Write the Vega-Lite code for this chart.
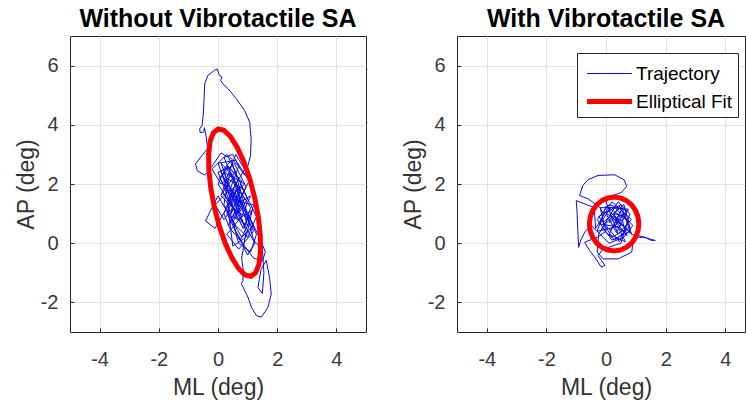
{
  "$schema": "https://vega.github.io/schema/vega-lite/v6.json",
  "background": "white",
  "padding": {"left": 14, "top": 6, "right": 0, "bottom": 0},
  "spacing": 34,
  "datasets": {
    "d": [
      {"p":"L","s":"Trajectory","i":0,"x":0.6,"y":1.2},
      {"p":"L","s":"Trajectory","i":1,"x":0.9,"y":1.8},
      {"p":"L","s":"Trajectory","i":2,"x":0.3,"y":2.2},
      {"p":"L","s":"Trajectory","i":3,"x":0.1,"y":1.6},
      {"p":"L","s":"Trajectory","i":4,"x":0.7,"y":1.0},
      {"p":"L","s":"Trajectory","i":5,"x":1.0,"y":1.5},
      {"p":"L","s":"Trajectory","i":6,"x":0.5,"y":2.6},
      {"p":"L","s":"Trajectory","i":7,"x":0.0,"y":2.4},
      {"p":"L","s":"Trajectory","i":8,"x":0.4,"y":1.4},
      {"p":"L","s":"Trajectory","i":9,"x":0.9,"y":0.6},
      {"p":"L","s":"Trajectory","i":10,"x":1.1,"y":1.2},
      {"p":"L","s":"Trajectory","i":11,"x":0.6,"y":2.0},
      {"p":"L","s":"Trajectory","i":12,"x":0.2,"y":2.9},
      {"p":"L","s":"Trajectory","i":13,"x":0.5,"y":3.0},
      {"p":"L","s":"Trajectory","i":14,"x":0.75,"y":2.5},
      {"p":"L","s":"Trajectory","i":15,"x":0.9,"y":2.3},
      {"p":"L","s":"Trajectory","i":16,"x":1.01,"y":2.62},
      {"p":"L","s":"Trajectory","i":17,"x":1.10,"y":2.96},
      {"p":"L","s":"Trajectory","i":18,"x":1.12,"y":3.53},
      {"p":"L","s":"Trajectory","i":19,"x":1.07,"y":4.09},
      {"p":"L","s":"Trajectory","i":20,"x":0.90,"y":4.48},
      {"p":"L","s":"Trajectory","i":21,"x":0.62,"y":4.88},
      {"p":"L","s":"Trajectory","i":22,"x":0.34,"y":5.22},
      {"p":"L","s":"Trajectory","i":23,"x":0.17,"y":5.38},
      {"p":"L","s":"Trajectory","i":24,"x":0.09,"y":5.50},
      {"p":"L","s":"Trajectory","i":25,"x":0.13,"y":5.62},
      {"p":"L","s":"Trajectory","i":26,"x":0.05,"y":5.67},
      {"p":"L","s":"Trajectory","i":27,"x":-0.03,"y":5.89},
      {"p":"L","s":"Trajectory","i":28,"x":-0.12,"y":5.84},
      {"p":"L","s":"Trajectory","i":29,"x":-0.34,"y":5.67},
      {"p":"L","s":"Trajectory","i":30,"x":-0.45,"y":5.38},
      {"p":"L","s":"Trajectory","i":31,"x":-0.47,"y":4.88},
      {"p":"L","s":"Trajectory","i":32,"x":-0.50,"y":4.31},
      {"p":"L","s":"Trajectory","i":33,"x":-0.54,"y":3.98},
      {"p":"L","s":"Trajectory","i":34,"x":-0.62,"y":3.86},
      {"p":"L","s":"Trajectory","i":35,"x":-0.60,"y":3.73},
      {"p":"L","s":"Trajectory","i":36,"x":-0.48,"y":3.76},
      {"p":"L","s":"Trajectory","i":37,"x":-0.46,"y":3.90},
      {"p":"L","s":"Trajectory","i":38,"x":-0.40,"y":3.6},
      {"p":"L","s":"Trajectory","i":39,"x":-0.35,"y":3.2},
      {"p":"L","s":"Trajectory","i":40,"x":-0.55,"y":2.95},
      {"p":"L","s":"Trajectory","i":41,"x":-0.76,"y":2.68},
      {"p":"L","s":"Trajectory","i":42,"x":-0.70,"y":2.45},
      {"p":"L","s":"Trajectory","i":43,"x":-0.45,"y":2.30},
      {"p":"L","s":"Trajectory","i":44,"x":-0.20,"y":2.6},
      {"p":"L","s":"Trajectory","i":45,"x":0.10,"y":3.05},
      {"p":"L","s":"Trajectory","i":46,"x":0.35,"y":2.9},
      {"p":"L","s":"Trajectory","i":47,"x":0.6,"y":2.4},
      {"p":"L","s":"Trajectory","i":48,"x":0.1,"y":2.0},
      {"p":"L","s":"Trajectory","i":49,"x":-0.2,"y":2.5},
      {"p":"L","s":"Trajectory","i":50,"x":0.3,"y":3.0},
      {"p":"L","s":"Trajectory","i":51,"x":0.7,"y":2.6},
      {"p":"L","s":"Trajectory","i":52,"x":0.4,"y":1.8},
      {"p":"L","s":"Trajectory","i":53,"x":-0.1,"y":1.3},
      {"p":"L","s":"Trajectory","i":54,"x":0.2,"y":0.8},
      {"p":"L","s":"Trajectory","i":55,"x":0.8,"y":1.6},
      {"p":"L","s":"Trajectory","i":56,"x":1.05,"y":2.1},
      {"p":"L","s":"Trajectory","i":57,"x":0.6,"y":2.8},
      {"p":"L","s":"Trajectory","i":58,"x":0.0,"y":2.7},
      {"p":"L","s":"Trajectory","i":59,"x":0.3,"y":1.9},
      {"p":"L","s":"Trajectory","i":60,"x":0.9,"y":1.2},
      {"p":"L","s":"Trajectory","i":61,"x":1.2,"y":0.6},
      {"p":"L","s":"Trajectory","i":62,"x":0.8,"y":0.2},
      {"p":"L","s":"Trajectory","i":63,"x":0.4,"y":0.9},
      {"p":"L","s":"Trajectory","i":64,"x":0.0,"y":1.6},
      {"p":"L","s":"Trajectory","i":65,"x":-0.3,"y":1.0},
      {"p":"L","s":"Trajectory","i":66,"x":-0.42,"y":0.75},
      {"p":"L","s":"Trajectory","i":67,"x":-0.1,"y":0.5},
      {"p":"L","s":"Trajectory","i":68,"x":0.3,"y":1.2},
      {"p":"L","s":"Trajectory","i":69,"x":0.7,"y":1.9},
      {"p":"L","s":"Trajectory","i":70,"x":1.0,"y":1.0},
      {"p":"L","s":"Trajectory","i":71,"x":1.3,"y":0.3},
      {"p":"L","s":"Trajectory","i":72,"x":1.1,"y":-0.3},
      {"p":"L","s":"Trajectory","i":73,"x":0.7,"y":0.0},
      {"p":"L","s":"Trajectory","i":74,"x":0.5,"y":0.7},
      {"p":"L","s":"Trajectory","i":75,"x":0.9,"y":1.5},
      {"p":"L","s":"Trajectory","i":76,"x":0.5,"y":2.2},
      {"p":"L","s":"Trajectory","i":77,"x":0.15,"y":1.7},
      {"p":"L","s":"Trajectory","i":78,"x":0.6,"y":1.1},
      {"p":"L","s":"Trajectory","i":79,"x":1.1,"y":0.8},
      {"p":"L","s":"Trajectory","i":80,"x":1.4,"y":0.2},
      {"p":"L","s":"Trajectory","i":81,"x":1.6,"y":-0.3},
      {"p":"L","s":"Trajectory","i":82,"x":1.5,"y":-0.6},
      {"p":"L","s":"Trajectory","i":83,"x":1.2,"y":-0.5},
      {"p":"L","s":"Trajectory","i":84,"x":0.9,"y":-0.1},
      {"p":"L","s":"Trajectory","i":85,"x":0.6,"y":0.4},
      {"p":"L","s":"Trajectory","i":86,"x":0.3,"y":1.4},
      {"p":"L","s":"Trajectory","i":87,"x":0.7,"y":2.2},
      {"p":"L","s":"Trajectory","i":88,"x":0.35,"y":2.6},
      {"p":"L","s":"Trajectory","i":89,"x":0.05,"y":2.2},
      {"p":"L","s":"Trajectory","i":90,"x":0.5,"y":1.5},
      {"p":"L","s":"Trajectory","i":91,"x":0.95,"y":0.4},
      {"p":"L","s":"Trajectory","i":92,"x":0.8,"y":-0.5},
      {"p":"L","s":"Trajectory","i":93,"x":0.85,"y":-0.9},
      {"p":"L","s":"Trajectory","i":94,"x":0.84,"y":-1.26},
      {"p":"L","s":"Trajectory","i":95,"x":0.79,"y":-1.37},
      {"p":"L","s":"Trajectory","i":96,"x":1.01,"y":-1.82},
      {"p":"L","s":"Trajectory","i":97,"x":1.13,"y":-2.16},
      {"p":"L","s":"Trajectory","i":98,"x":1.30,"y":-2.45},
      {"p":"L","s":"Trajectory","i":99,"x":1.46,"y":-2.50},
      {"p":"L","s":"Trajectory","i":100,"x":1.60,"y":-2.30},
      {"p":"L","s":"Trajectory","i":101,"x":1.69,"y":-2.16},
      {"p":"L","s":"Trajectory","i":102,"x":1.80,"y":-1.71},
      {"p":"L","s":"Trajectory","i":103,"x":1.74,"y":-1.15},
      {"p":"L","s":"Trajectory","i":104,"x":1.63,"y":-0.58},
      {"p":"L","s":"Trajectory","i":105,"x":1.45,"y":-0.9},
      {"p":"L","s":"Trajectory","i":106,"x":1.35,"y":-1.5},
      {"p":"L","s":"Trajectory","i":107,"x":1.5,"y":-1.7},
      {"p":"L","s":"Trajectory","i":108,"x":1.55,"y":-1.0},
      {"p":"L","s":"Trajectory","i":109,"x":1.5,"y":-0.2},
      {"p":"L","s":"Trajectory","i":110,"x":1.2,"y":0.1},
      {"p":"L","s":"Trajectory","i":111,"x":1.0,"y":0.9},
      {"p":"L","s":"Trajectory","i":112,"x":0.7,"y":1.6},
      {"p":"L","s":"Trajectory","i":113,"x":0.4,"y":2.4},
      {"p":"L","s":"Trajectory","i":114,"x":0.2,"y":1.3},
      {"p":"L","s":"Trajectory","i":115,"x":0.6,"y":0.6},
      {"p":"L","s":"Trajectory","i":116,"x":1.0,"y":0.2},
      {"p":"L","s":"Trajectory","i":117,"x":1.3,"y":0.9},
      {"p":"L","s":"Trajectory","i":118,"x":0.8,"y":1.9},
      {"p":"L","s":"Trajectory","i":119,"x":0.45,"y":1.0},
      {"p":"L","s":"Trajectory","i":120,"x":0.55,"y":1.7},
      {"p":"L","s":"Trajectory","i":121,"x":0.9,"y":2.0},
      {"p":"L","s":"Trajectory","i":122,"x":0.2,"y":2.4},
      {"p":"L","s":"Trajectory","i":123,"x":0.6,"y":1.3},
      {"p":"L","s":"Trajectory","i":124,"x":1.1,"y":1.6},
      {"p":"L","s":"Trajectory","i":125,"x":0.8,"y":0.9},
      {"p":"L","s":"Trajectory","i":126,"x":0.3,"y":0.3},
      {"p":"L","s":"Trajectory","i":127,"x":0.7,"y":-0.2},
      {"p":"L","s":"Trajectory","i":128,"x":1.2,"y":0.4},
      {"p":"L","s":"Trajectory","i":129,"x":0.9,"y":1.1},
      {"p":"L","s":"Trajectory","i":130,"x":0.4,"y":1.9},
      {"p":"L","s":"Trajectory","i":131,"x":0.1,"y":2.7},
      {"p":"L","s":"Trajectory","i":132,"x":0.5,"y":2.3},
      {"p":"L","s":"Trajectory","i":133,"x":0.8,"y":1.4},
      {"p":"L","s":"Trajectory","i":134,"x":0.5,"y":0.9},
      {"p":"L","s":"Trajectory","i":135,"x":1.0,"y":0.6},
      {"p":"L","s":"Trajectory","i":136,"x":0.65,"y":1.75},
      {"p":"L","s":"Trajectory","i":137,"x":0.2,"y":2.0},
      {"p":"L","s":"Trajectory","i":138,"x":0.75,"y":1.2},
      {"p":"L","s":"Trajectory","i":139,"x":0.35,"y":0.6},
      {"p":"L","s":"Trajectory","i":140,"x":0.95,"y":1.9},
      {"p":"L","s":"Trajectory","i":141,"x":0.55,"y":2.7},
      {"p":"L","s":"Trajectory","i":142,"x":0.15,"y":2.3},
      {"p":"L","s":"Trajectory","i":143,"x":0.65,"y":0.8},
      {"p":"L","s":"Trajectory","i":144,"x":1.15,"y":1.1},
      {"p":"L","s":"Trajectory","i":145,"x":0.85,"y":0.5},
      {"p":"L","s":"Trajectory","i":146,"x":0.45,"y":1.3},
      {"p":"L","s":"Trajectory","i":147,"x":0.0,"y":2.0},
      {"p":"L","s":"Trajectory","i":148,"x":0.3,"y":2.6},
      {"p":"L","s":"Trajectory","i":149,"x":0.8,"y":2.1},
      {"p":"L","s":"Trajectory","i":150,"x":0.6,"y":1.5},
      {"p":"L","s":"Trajectory","i":151,"x":1.05,"y":0.7},
      {"p":"L","s":"Trajectory","i":152,"x":0.75,"y":0.1},
      {"p":"L","s":"Trajectory","i":153,"x":0.4,"y":0.5},
      {"p":"L","s":"Trajectory","i":154,"x":0.2,"y":1.0},
      {"p":"L","s":"Trajectory","i":155,"x":0.55,"y":1.9},
      {"p":"L","s":"Trajectory","i":156,"x":0.9,"y":2.5},
      {"p":"L","s":"Trajectory","i":157,"x":0.6,"y":3.0},
      {"p":"L","s":"Trajectory","i":158,"x":0.25,"y":2.1},
      {"p":"L","s":"Trajectory","i":159,"x":0.7,"y":1.4},
      {"p":"L","s":"Trajectory","i":160,"x":1.2,"y":1.3},
      {"p":"L","s":"Trajectory","i":161,"x":0.95,"y":0.2},
      {"p":"L","s":"Trajectory","i":162,"x":0.5,"y":-0.1},
      {"p":"L","s":"Trajectory","i":163,"x":0.35,"y":1.1},
      {"p":"L","s":"Trajectory","i":164,"x":0.7,"y":2.0},
      {"p":"L","s":"Trajectory","i":165,"x":0.45,"y":2.8},
      {"p":"L","s":"Trajectory","i":166,"x":0.1,"y":2.4},
      {"p":"L","s":"Trajectory","i":167,"x":0.55,"y":1.6},
      {"p":"L","s":"Trajectory","i":168,"x":0.85,"y":0.7},
      {"p":"L","s":"Trajectory","i":169,"x":1.25,"y":0.0},
      {"p":"L","s":"Trajectory","i":170,"x":1.0,"y":-0.4},
      {"p":"L","s":"Trajectory","i":171,"x":0.65,"y":0.3},
      {"p":"L","s":"Trajectory","i":172,"x":0.3,"y":1.0},
      {"p":"L","s":"Trajectory","i":173,"x":0.5,"y":1.8},
      {"p":"L","s":"Trajectory","i":174,"x":0.85,"y":1.3},
      {"p":"L","s":"Elliptical Fit","i":0,"x":0.004,"y":3.859},
      {"p":"L","s":"Elliptical Fit","i":1,"x":-0.154,"y":3.734},
      {"p":"L","s":"Elliptical Fit","i":2,"x":-0.264,"y":3.449},
      {"p":"L","s":"Elliptical Fit","i":3,"x":-0.316,"y":3.022},
      {"p":"L","s":"Elliptical Fit","i":4,"x":-0.309,"y":2.483},
      {"p":"L","s":"Elliptical Fit","i":5,"x":-0.244,"y":1.867},
      {"p":"L","s":"Elliptical Fit","i":6,"x":-0.123,"y":1.217},
      {"p":"L","s":"Elliptical Fit","i":7,"x":0.044,"y":0.577},
      {"p":"L","s":"Elliptical Fit","i":8,"x":0.247,"y":-0.007},
      {"p":"L","s":"Elliptical Fit","i":9,"x":0.470,"y":-0.498},
      {"p":"L","s":"Elliptical Fit","i":10,"x":0.700,"y":-0.863},
      {"p":"L","s":"Elliptical Fit","i":11,"x":0.920,"y":-1.074},
      {"p":"L","s":"Elliptical Fit","i":12,"x":1.116,"y":-1.119},
      {"p":"L","s":"Elliptical Fit","i":13,"x":1.274,"y":-0.994},
      {"p":"L","s":"Elliptical Fit","i":14,"x":1.384,"y":-0.709},
      {"p":"L","s":"Elliptical Fit","i":15,"x":1.436,"y":-0.282},
      {"p":"L","s":"Elliptical Fit","i":16,"x":1.429,"y":0.257},
      {"p":"L","s":"Elliptical Fit","i":17,"x":1.364,"y":0.873},
      {"p":"L","s":"Elliptical Fit","i":18,"x":1.243,"y":1.523},
      {"p":"L","s":"Elliptical Fit","i":19,"x":1.076,"y":2.163},
      {"p":"L","s":"Elliptical Fit","i":20,"x":0.873,"y":2.747},
      {"p":"L","s":"Elliptical Fit","i":21,"x":0.650,"y":3.238},
      {"p":"L","s":"Elliptical Fit","i":22,"x":0.420,"y":3.603},
      {"p":"L","s":"Elliptical Fit","i":23,"x":0.200,"y":3.814},
      {"p":"L","s":"Elliptical Fit","i":24,"x":0.004,"y":3.859},
      {"p":"R","s":"Trajectory","i":0,"x":0.3,"y":0.6},
      {"p":"R","s":"Trajectory","i":1,"x":0.7,"y":1.1},
      {"p":"R","s":"Trajectory","i":2,"x":0.1,"y":1.3},
      {"p":"R","s":"Trajectory","i":3,"x":-0.3,"y":0.8},
      {"p":"R","s":"Trajectory","i":4,"x":0.2,"y":0.1},
      {"p":"R","s":"Trajectory","i":5,"x":0.8,"y":0.4},
      {"p":"R","s":"Trajectory","i":6,"x":0.5,"y":1.3},
      {"p":"R","s":"Trajectory","i":7,"x":-0.1,"y":1.0},
      {"p":"R","s":"Trajectory","i":8,"x":-0.2,"y":1.2},
      {"p":"R","s":"Trajectory","i":9,"x":-0.6,"y":1.5},
      {"p":"R","s":"Trajectory","i":10,"x":-0.89,"y":1.61},
      {"p":"R","s":"Trajectory","i":11,"x":-0.78,"y":1.95},
      {"p":"R","s":"Trajectory","i":12,"x":-0.61,"y":2.14},
      {"p":"R","s":"Trajectory","i":13,"x":-0.27,"y":2.29},
      {"p":"R","s":"Trajectory","i":14,"x":0.29,"y":2.31},
      {"p":"R","s":"Trajectory","i":15,"x":0.61,"y":2.14},
      {"p":"R","s":"Trajectory","i":16,"x":0.69,"y":1.92},
      {"p":"R","s":"Trajectory","i":17,"x":0.52,"y":1.72},
      {"p":"R","s":"Trajectory","i":18,"x":0.24,"y":1.61},
      {"p":"R","s":"Trajectory","i":19,"x":0.0,"y":1.4},
      {"p":"R","s":"Trajectory","i":20,"x":0.4,"y":0.3},
      {"p":"R","s":"Trajectory","i":21,"x":0.85,"y":0.8},
      {"p":"R","s":"Trajectory","i":22,"x":0.2,"y":1.4},
      {"p":"R","s":"Trajectory","i":23,"x":-0.35,"y":0.5},
      {"p":"R","s":"Trajectory","i":24,"x":-0.4,"y":1.2},
      {"p":"R","s":"Trajectory","i":25,"x":-1.0,"y":1.44},
      {"p":"R","s":"Trajectory","i":26,"x":-0.97,"y":0.99},
      {"p":"R","s":"Trajectory","i":27,"x":-0.95,"y":0.49},
      {"p":"R","s":"Trajectory","i":28,"x":-0.92,"y":-0.14},
      {"p":"R","s":"Trajectory","i":29,"x":-0.85,"y":0.1},
      {"p":"R","s":"Trajectory","i":30,"x":-0.7,"y":0.4},
      {"p":"R","s":"Trajectory","i":31,"x":-0.5,"y":0.6},
      {"p":"R","s":"Trajectory","i":32,"x":0.1,"y":0.0},
      {"p":"R","s":"Trajectory","i":33,"x":0.6,"y":0.2},
      {"p":"R","s":"Trajectory","i":34,"x":0.9,"y":0.6},
      {"p":"R","s":"Trajectory","i":35,"x":0.3,"y":1.2},
      {"p":"R","s":"Trajectory","i":36,"x":-0.2,"y":1.2},
      {"p":"R","s":"Trajectory","i":37,"x":0.0,"y":0.4},
      {"p":"R","s":"Trajectory","i":38,"x":-0.3,"y":0.2},
      {"p":"R","s":"Trajectory","i":39,"x":-0.72,"y":0.03},
      {"p":"R","s":"Trajectory","i":40,"x":-0.55,"y":-0.25},
      {"p":"R","s":"Trajectory","i":41,"x":-0.38,"y":-0.47},
      {"p":"R","s":"Trajectory","i":42,"x":-0.16,"y":-0.81},
      {"p":"R","s":"Trajectory","i":43,"x":-0.04,"y":-0.75},
      {"p":"R","s":"Trajectory","i":44,"x":-0.27,"y":-0.42},
      {"p":"R","s":"Trajectory","i":45,"x":-0.1,"y":-0.2},
      {"p":"R","s":"Trajectory","i":46,"x":0.5,"y":0.0},
      {"p":"R","s":"Trajectory","i":47,"x":0.8,"y":1.0},
      {"p":"R","s":"Trajectory","i":48,"x":0.4,"y":1.4},
      {"p":"R","s":"Trajectory","i":49,"x":-0.25,"y":0.3},
      {"p":"R","s":"Trajectory","i":50,"x":-0.3,"y":-0.3},
      {"p":"R","s":"Trajectory","i":51,"x":-0.10,"y":-0.53},
      {"p":"R","s":"Trajectory","i":52,"x":0.41,"y":-0.53},
      {"p":"R","s":"Trajectory","i":53,"x":0.86,"y":-0.30},
      {"p":"R","s":"Trajectory","i":54,"x":0.9,"y":0.0},
      {"p":"R","s":"Trajectory","i":55,"x":1.0,"y":0.3},
      {"p":"R","s":"Trajectory","i":56,"x":1.08,"y":0.26},
      {"p":"R","s":"Trajectory","i":57,"x":1.65,"y":0.09},
      {"p":"R","s":"Trajectory","i":58,"x":1.5,"y":0.1},
      {"p":"R","s":"Trajectory","i":59,"x":1.31,"y":0.20},
      {"p":"R","s":"Trajectory","i":60,"x":1.0,"y":0.2},
      {"p":"R","s":"Trajectory","i":61,"x":0.3,"y":0.8},
      {"p":"R","s":"Trajectory","i":62,"x":0.7,"y":0.5},
      {"p":"R","s":"Trajectory","i":63,"x":0.2,"y":0.2},
      {"p":"R","s":"Trajectory","i":64,"x":-0.1,"y":0.7},
      {"p":"R","s":"Trajectory","i":65,"x":0.6,"y":1.3},
      {"p":"R","s":"Trajectory","i":66,"x":0.85,"y":0.3},
      {"p":"R","s":"Trajectory","i":67,"x":0.1,"y":1.1},
      {"p":"R","s":"Trajectory","i":68,"x":-0.25,"y":0.9},
      {"p":"R","s":"Trajectory","i":69,"x":0.45,"y":0.05},
      {"p":"R","s":"Trajectory","i":70,"x":0.75,"y":0.75},
      {"p":"R","s":"Trajectory","i":71,"x":0.0,"y":1.25},
      {"p":"R","s":"Trajectory","i":72,"x":-0.3,"y":0.4},
      {"p":"R","s":"Trajectory","i":73,"x":0.5,"y":0.6},
      {"p":"R","s":"Trajectory","i":74,"x":0.25,"y":1.0},
      {"p":"R","s":"Trajectory","i":75,"x":0.65,"y":0.9},
      {"p":"R","s":"Trajectory","i":76,"x":0.15,"y":0.45},
      {"p":"R","s":"Trajectory","i":77,"x":0.35,"y":0.75},
      {"p":"R","s":"Trajectory","i":78,"x":0.6,"y":1.0},
      {"p":"R","s":"Trajectory","i":79,"x":0.1,"y":0.7},
      {"p":"R","s":"Trajectory","i":80,"x":0.45,"y":1.25},
      {"p":"R","s":"Trajectory","i":81,"x":0.8,"y":0.55},
      {"p":"R","s":"Trajectory","i":82,"x":0.3,"y":0.1},
      {"p":"R","s":"Trajectory","i":83,"x":-0.15,"y":0.5},
      {"p":"R","s":"Trajectory","i":84,"x":0.2,"y":0.9},
      {"p":"R","s":"Trajectory","i":85,"x":0.7,"y":0.25},
      {"p":"R","s":"Trajectory","i":86,"x":0.55,"y":0.75},
      {"p":"R","s":"Trajectory","i":87,"x":0.0,"y":1.0},
      {"p":"R","s":"Trajectory","i":88,"x":0.35,"y":0.35},
      {"p":"R","s":"Trajectory","i":89,"x":0.75,"y":1.15},
      {"p":"R","s":"Trajectory","i":90,"x":0.15,"y":1.2},
      {"p":"R","s":"Trajectory","i":91,"x":-0.2,"y":0.65},
      {"p":"R","s":"Trajectory","i":92,"x":0.4,"y":0.55},
      {"p":"R","s":"Trajectory","i":93,"x":0.65,"y":0.05},
      {"p":"R","s":"Trajectory","i":94,"x":0.1,"y":0.3},
      {"p":"R","s":"Trajectory","i":95,"x":0.5,"y":1.1},
      {"p":"R","s":"Trajectory","i":96,"x":0.25,"y":0.6},
      {"p":"R","s":"Trajectory","i":97,"x":0.6,"y":0.4},
      {"p":"R","s":"Elliptical Fit","i":0,"x":1.10,"y":0.65},
      {"p":"R","s":"Elliptical Fit","i":1,"x":1.072,"y":0.886},
      {"p":"R","s":"Elliptical Fit","i":2,"x":0.989,"y":1.105},
      {"p":"R","s":"Elliptical Fit","i":3,"x":0.857,"y":1.293},
      {"p":"R","s":"Elliptical Fit","i":4,"x":0.685,"y":1.438},
      {"p":"R","s":"Elliptical Fit","i":5,"x":0.485,"y":1.529},
      {"p":"R","s":"Elliptical Fit","i":6,"x":0.27,"y":1.56},
      {"p":"R","s":"Elliptical Fit","i":7,"x":0.055,"y":1.529},
      {"p":"R","s":"Elliptical Fit","i":8,"x":-0.145,"y":1.438},
      {"p":"R","s":"Elliptical Fit","i":9,"x":-0.317,"y":1.293},
      {"p":"R","s":"Elliptical Fit","i":10,"x":-0.449,"y":1.105},
      {"p":"R","s":"Elliptical Fit","i":11,"x":-0.532,"y":0.886},
      {"p":"R","s":"Elliptical Fit","i":12,"x":-0.56,"y":0.65},
      {"p":"R","s":"Elliptical Fit","i":13,"x":-0.532,"y":0.414},
      {"p":"R","s":"Elliptical Fit","i":14,"x":-0.449,"y":0.195},
      {"p":"R","s":"Elliptical Fit","i":15,"x":-0.317,"y":0.007},
      {"p":"R","s":"Elliptical Fit","i":16,"x":-0.145,"y":-0.138},
      {"p":"R","s":"Elliptical Fit","i":17,"x":0.055,"y":-0.229},
      {"p":"R","s":"Elliptical Fit","i":18,"x":0.27,"y":-0.26},
      {"p":"R","s":"Elliptical Fit","i":19,"x":0.485,"y":-0.229},
      {"p":"R","s":"Elliptical Fit","i":20,"x":0.685,"y":-0.138},
      {"p":"R","s":"Elliptical Fit","i":21,"x":0.857,"y":0.007},
      {"p":"R","s":"Elliptical Fit","i":22,"x":0.989,"y":0.195},
      {"p":"R","s":"Elliptical Fit","i":23,"x":1.072,"y":0.414},
      {"p":"R","s":"Elliptical Fit","i":24,"x":1.10,"y":0.65}
    ]
  },
  "hconcat": [
    {
      "width": 296,
      "height": 296,
      "title": {"text": "Without Vibrotactile SA", "offset": 4},
      "data": {"name": "d"},
      "transform": [{"filter": "datum.p === 'L'"}],
      "encoding": {
        "x": {"field": "x", "type": "quantitative", "scale": {"domain": [-5, 5], "nice": false, "zero": false}, "axis": {"values": [-4, -2, 0, 2, 4], "title": "ML (deg)"}},
        "y": {"field": "y", "type": "quantitative", "scale": {"domain": [-3, 7], "nice": false, "zero": false}, "axis": {"values": [-2, 0, 2, 4, 6], "title": "AP (deg)"}},
        "color": {"field": "s", "type": "nominal", "scale": {"domain": ["Trajectory", "Elliptical Fit"], "range": ["#0a0aee", "#ff0000"]}, "legend": null},
        "strokeWidth": {"field": "s", "type": "nominal", "scale": {"domain": ["Trajectory", "Elliptical Fit"], "range": [1, 5]}, "legend": null},
        "order": {"field": "i", "type": "quantitative"}
      },
      "layer": [
        {"transform": [{"filter": "datum.s === 'Trajectory'"}], "mark": {"type": "line", "strokeJoin": "round", "strokeCap": "round"}},
        {"transform": [{"filter": "datum.s === 'Elliptical Fit'"}], "mark": {"type": "line", "strokeJoin": "round", "strokeCap": "round"}}
      ]
    },
    {
      "width": 288,
      "height": 296,
      "title": {"text": "With Vibrotactile SA", "offset": 4, "dx": 5},
      "data": {"name": "d"},
      "transform": [{"filter": "datum.p === 'R'"}],
      "encoding": {
        "x": {"field": "x", "type": "quantitative", "scale": {"domain": [-5, 4.66], "nice": false, "zero": false}, "axis": {"values": [-4, -2, 0, 2, 4], "title": "ML (deg)", "titleX": 149}},
        "y": {"field": "y", "type": "quantitative", "scale": {"domain": [-3, 7], "nice": false, "zero": false}, "axis": {"values": [-2, 0, 2, 4, 6], "title": "AP (deg)"}},
        "color": {"field": "s", "type": "nominal", "scale": {"domain": ["Trajectory", "Elliptical Fit"], "range": ["#0a0aee", "#ff0000"]},
          "legend": {"orient": "none", "legendX": 120, "legendY": 17, "title": null, "symbolType": "M-1.5,0H1.5", "symbolSize": 900, "symbolOffset": 10, "labelFontSize": 19, "labelColor": "#000000", "labelOffset": 9, "strokeColor": "#262626", "fillColor": "white", "padding": 5, "rowPadding": 0}},
        "strokeWidth": {"field": "s", "type": "nominal", "scale": {"domain": ["Trajectory", "Elliptical Fit"], "range": [1, 5]},
          "legend": {"orient": "none", "legendX": 120, "legendY": 17, "title": null, "symbolType": "M-1.5,0H1.5", "symbolSize": 900, "symbolOffset": 10, "labelFontSize": 19, "labelColor": "#000000", "labelOffset": 9, "strokeColor": "#262626", "fillColor": "white", "padding": 5, "rowPadding": 0}},
        "order": {"field": "i", "type": "quantitative"}
      },
      "layer": [
        {"transform": [{"filter": "datum.s === 'Trajectory'"}], "mark": {"type": "line", "strokeJoin": "round", "strokeCap": "round"}},
        {"transform": [{"filter": "datum.s === 'Elliptical Fit'"}], "mark": {"type": "line", "strokeJoin": "round", "strokeCap": "round"}}
      ]
    }
  ],
  "resolve": {"scale": {"color": "independent", "strokeWidth": "independent"}, "legend": {"color": "independent", "strokeWidth": "independent"}},
  "config": {
    "font": "Liberation Sans",
    "view": {"stroke": "#262626", "strokeWidth": 1},
    "axis": {
      "grid": true, "gridColor": "#e3e3e3", "gridWidth": 1,
      "domain": false, "ticks": true, "tickSize": -4, "tickColor": "#262626",
      "labelFontSize": 20, "labelColor": "#3a3a3a", "labelFont": "Liberation Sans",
      "labelExpr": "replace(datum.label, '\u2212', '-')",
      "titleFontSize": 23, "titleFontWeight": "normal", "titleColor": "#333333", "titleFont": "Liberation Sans"
    },
    "axisX": {"labelPadding": 21, "titlePadding": 7},
    "axisY": {"labelPadding": 16, "titlePadding": 2},
    "title": {"fontSize": 25, "fontWeight": "bold", "color": "#000000", "font": "Liberation Sans"},
    "legend": {"labelFont": "Liberation Sans"}
  }
}
